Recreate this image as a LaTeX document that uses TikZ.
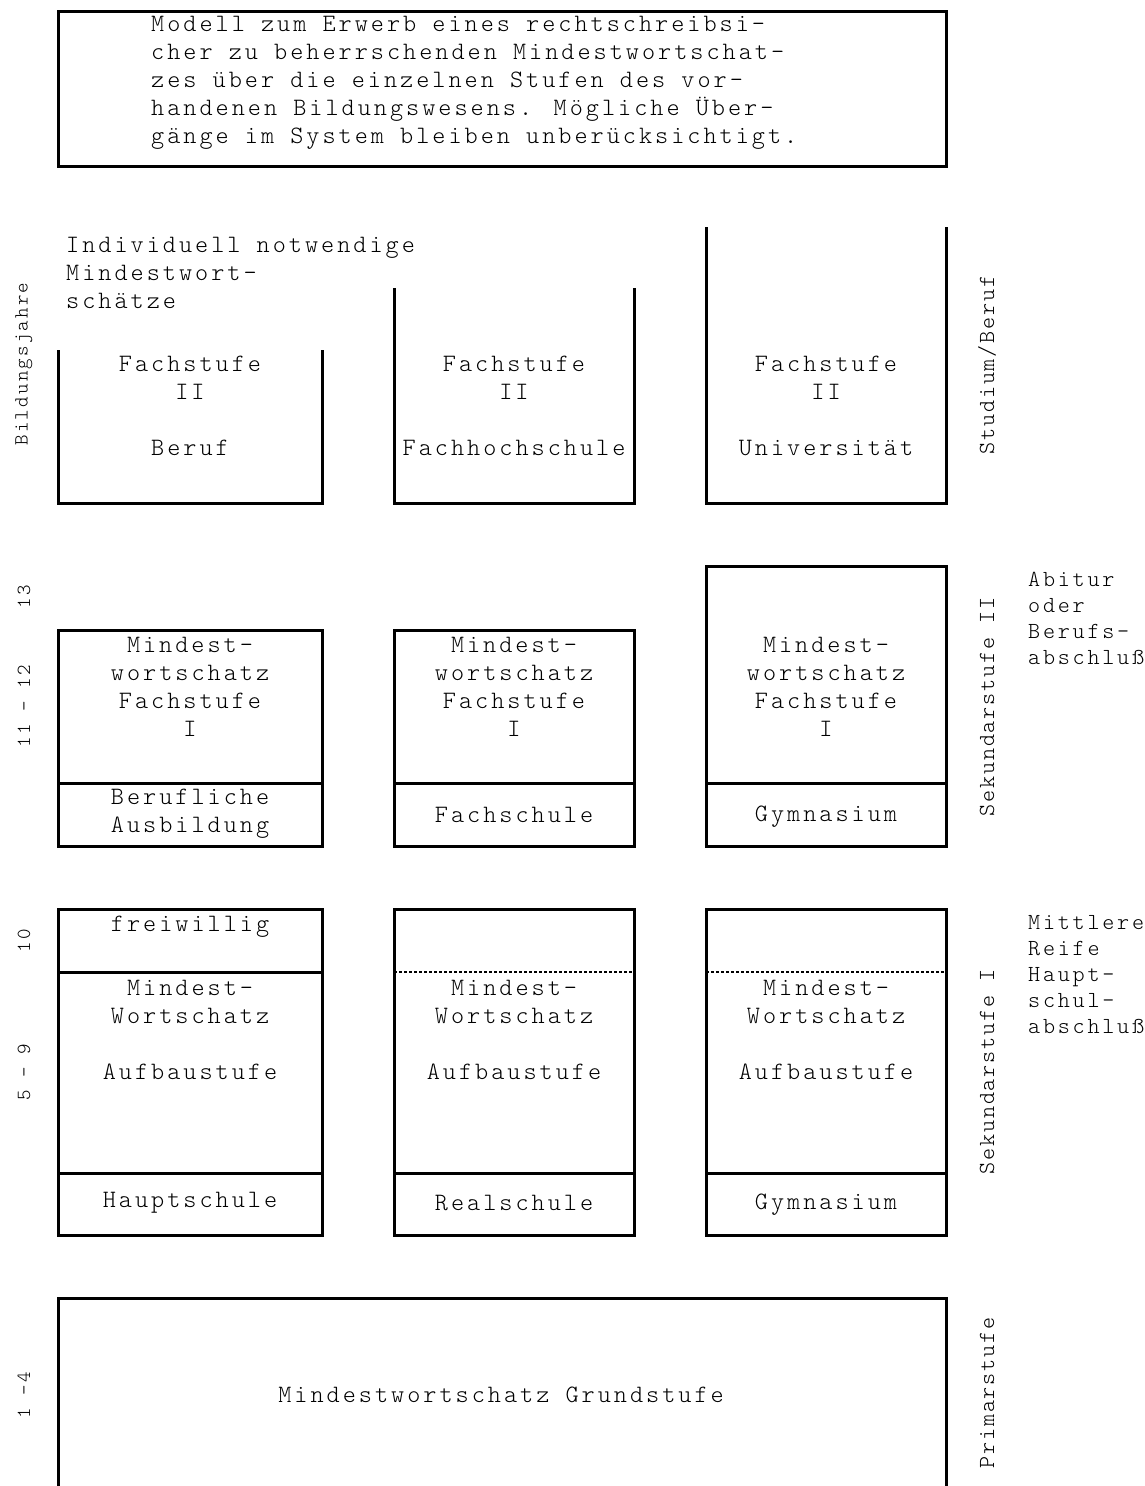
\documentclass[tikz,border=0pt]{standalone}
\usepackage{fontspec}
\setmainfont{Liberation Mono}
\newfontfamily\rotbig[LetterSpace=8]{lmmonolt10-regular.otf}
\newfontfamily\rotsmall[LetterSpace=11]{lmmonolt10-regular.otf}
\newfontfamily\courA[LetterSpace=12]{lmmonolt10-regular.otf}
\newfontfamily\courB[LetterSpace=12]{lmmonolt10-regular.otf}
\newcommand\courmain{\courA\fontsize{25}{28}\selectfont}
\newcommand\courside{\courB\fontsize{23}{26}\selectfont}
\begin{document}
\begin{tikzpicture}[x=1pt,y=-1pt,
  frame/.style={line width=3pt, line join=miter},
  sep/.style={line width=3pt},
  dotsep/.style={line width=2pt, dash pattern=on 2.5pt off 2.5pt},
  txt/.style={inner sep=0pt, align=center, font=\courmain},
  side/.style={inner sep=0pt, align=left, anchor=west, font=\courside},
  rotA/.style={inner sep=0pt, rotate=90, font=\rotbig\fontsize{23}{23}\selectfont},
  rotB/.style={inner sep=0pt, rotate=90, font=\rotsmall\fontsize{20}{20}\selectfont}]
\fill[white] (0,0) rectangle (1145,1486);
\useasboundingbox (0,0) rectangle (1145,1486);

% title box
\draw[frame] (58,11) rectangle (946,166);
\node[txt, align=left, anchor=west] (title) at (151,83) {Modell zum Erwerb eines rechtschreibsi-\\cher zu beherrschenden Mindestwortschat-\\zes über die einzelnen Stufen des vor-\\handenen Bildungswesens. Mögliche Über-\\gänge im System bleiben unberücksichtigt.};

% row 1 (open top)
\draw[frame] (58,350) -- (58,503) -- (322,503) -- (322,350);
\draw[frame] (394,288) -- (394,503) -- (634,503) -- (634,288);
\draw[frame] (706,227) -- (706,503) -- (946,503) -- (946,227);
\node[txt, align=left, anchor=west] (indiv) at (66,273) {Individuell notwendige\\Mindestwort-\\schätze};
\node[txt] (f2a) at (190,406) {Fachstufe\\II\\\mbox{}\\Beruf};
\node[txt] (f2b) at (514,406) {Fachstufe\\II\\\mbox{}\\Fachhochschule};
\node[txt] (f2c) at (826,406) {Fachstufe\\II\\\mbox{}\\Universität};

% row 2
\draw[frame] (58,630) rectangle (322,846);
\draw[sep] (58,783) -- (322,783);
\draw[frame] (394,630) rectangle (634,846);
\draw[sep] (394,783) -- (634,783);
\draw[frame] (706,566) rectangle (946,846);
\draw[sep] (706,783) -- (946,783);
\node[txt] (f1a) at (190,687) {Mindest-\\wortschatz\\Fachstufe\\I};
\node[txt] (f1b) at (514,687) {Mindest-\\wortschatz\\Fachstufe\\I};
\node[txt] (f1c) at (826,687) {Mindest-\\wortschatz\\Fachstufe\\I};
\node[txt] (ausb) at (190,814) {Berufliche\\Ausbildung};
\node[txt] (fachs) at (514,815) {Fachschule};
\node[txt] (gym2) at (826,817) {Gymnasium};

% row 3
\draw[frame] (58,909) rectangle (322,1235);
\draw[sep] (58,972) -- (322,972);
\draw[sep] (58,1173) -- (322,1173);
\draw[frame] (394,909) rectangle (634,1235);
\draw[dotsep] (394,972) -- (634,972);
\draw[sep] (394,1173) -- (634,1173);
\draw[frame] (706,909) rectangle (946,1235);
\draw[dotsep] (706,972) -- (946,972);
\draw[sep] (706,1173) -- (946,1173);
\node[txt] (frei) at (190,927) {freiwillig};
\node[txt] (aufa) at (190,1030) {Mindest-\\Wortschatz\\\mbox{}\\Aufbaustufe};
\node[txt] (aufb) at (514,1030) {Mindest-\\Wortschatz\\\mbox{}\\Aufbaustufe};
\node[txt] (aufc) at (826,1030) {Mindest-\\Wortschatz\\\mbox{}\\Aufbaustufe};
\node[txt] (haupt) at (190,1203) {Hauptschule};
\node[txt] (real) at (514,1203) {Realschule};
\node[txt] (gym1) at (826,1205) {Gymnasium};

% row 4
\draw[frame] (58,1492) -- (58,1298) -- (946,1298) -- (946,1492);
\node[txt] (grund) at (501,1395) {Mindestwortschatz Grundstufe};

% left labels
\node[rotB] (bj) at (24,364) {Bildungsjahre};
\node[rotB] (y13) at (24,597) {13};
\node[rotB] (y1112) at (24,706) {11 - 12};
\node[rotB] (y10) at (24,941) {10};
\node[rotB] (y59) at (24,1072) {5 - 9};
\node[rotB] (y14) at (24,1395) {1 -4};

% right labels
\node[rotA] (stud) at (987,365) {Studium/Beruf};
\node[rotA] (sek2) at (987,707) {Sekundarstufe II};
\node[rotA] (sek1) at (987,1072) {Sekundarstufe I};
\node[rotA] (prim) at (987,1393) {Primarstufe};

\node[side] (abitur) at (1028,618) {Abitur\\oder\\Berufs-\\abschluß};
\node[side] (reife) at (1028,975) {Mittlere\\Reife\\Haupt-\\schul-\\abschluß};
\end{tikzpicture}
\end{document}
